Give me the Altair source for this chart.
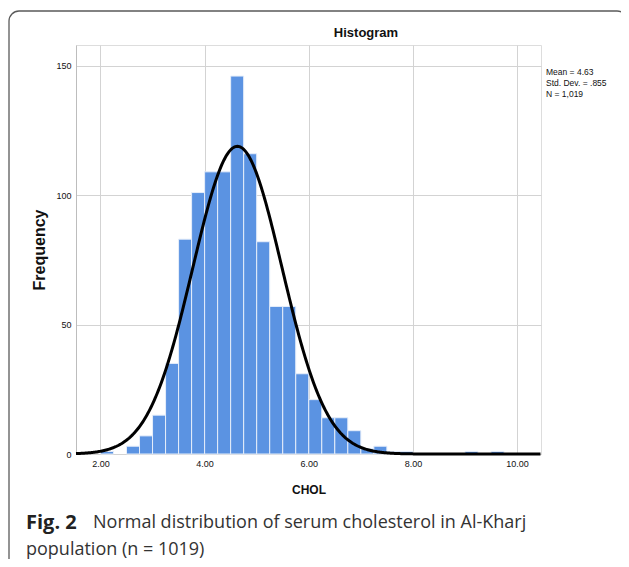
import altair as alt
import pandas as pd

# ---- data ----
bin_start = [2.00, 2.50, 2.75, 3.00, 3.25, 3.50, 3.75, 4.00, 4.25, 4.50, 4.75,
             5.00, 5.25, 5.50, 5.75, 6.00, 6.25, 6.50, 6.75, 7.00, 7.25, 7.50,
             7.75, 9.00, 9.50]
counts = [1, 3, 7, 15, 35, 83, 101, 109, 109, 146, 116,
          82, 57, 57, 31, 21, 14, 14, 9, 2, 3, 1,
          1, 1, 1]
BIN_WIDTH = 0.25
MEAN = 4.63
SD = 0.855
N = 1019
x_ticks = [2, 4, 6, 8, 10]
y_ticks = [0, 50, 100, 150]
X_DOMAIN = [1.53, 10.46]
Y_DOMAIN = [0, 158]
stats_lines = ["Mean = 4.63", "Std. Dev. = .855", "N = 1,019"]

hist = pd.DataFrame({"start": bin_start, "count": counts})

AX_FONT = "Liberation Sans"
W, H = 465, 409

x_scale = alt.Scale(domain=X_DOMAIN, nice=False, zero=False)
y_scale = alt.Scale(domain=Y_DOMAIN, nice=False, zero=False)

bars = alt.Chart(hist).transform_calculate(
    end=f"datum.start + {BIN_WIDTH}"
).mark_rect(color="#5b93e2", stroke="#e6eefa", strokeWidth=1).encode(
    x=alt.X("start:Q", scale=x_scale,
            axis=alt.Axis(values=x_ticks, format=".2f", title="CHOL",
                          titleFont=AX_FONT, titleFontSize=12, titleFontWeight="bold",
                          titleColor="#111", titlePadding=16,
                          labelFont=AX_FONT, labelFontSize=9, labelColor="#111",
                          labelPadding=5, ticks=False, domain=False,
                          grid=True, gridColor="#d3d3d3", gridWidth=1)),
    x2="end:Q",
    y=alt.Y("count:Q", scale=y_scale,
            axis=alt.Axis(values=y_ticks, title="Frequency",
                          titleFont=AX_FONT, titleFontSize=16, titleFontWeight="bold",
                          titleColor="#111", titlePadding=8,
                          labelFont=AX_FONT, labelFontSize=9, labelColor="#111",
                          labelPadding=5, ticks=False, domain=True,
                          domainColor="#bdbdbd", domainWidth=1,
                          grid=True, gridColor="#d3d3d3", gridWidth=1)),
)

curve = alt.Chart(alt.sequence(X_DOMAIN[0], X_DOMAIN[1] + 0.001, 0.02, as_="x")).transform_calculate(
    y=f"{N * BIN_WIDTH} / ({SD} * sqrt(2 * PI)) * exp(-0.5 * pow((datum.x - {MEAN}) / {SD}, 2))"
).mark_line(color="black", strokeWidth=3).encode(
    x=alt.X("x:Q", scale=x_scale),
    y=alt.Y("y:Q", scale=y_scale),
)

one = alt.Data(values=[{}])

card = alt.Chart(one).mark_rect(
    fill="white", fillOpacity=0, stroke="#5a5a5a", strokeWidth=1.3, cornerRadius=10
).encode(x=alt.value(-67), x2=alt.value(551), y=alt.value(-34), y2=alt.value(560))

title = alt.Chart(one).mark_text(
    font=AX_FONT, fontSize=13, fontWeight="bold", color="#111", align="center", baseline="middle"
).encode(x=alt.value(290), y=alt.value(-12), text=alt.value("Histogram"))

stats = alt.Chart(one).mark_text(
    font=AX_FONT, fontSize=8.5, color="#111", align="left", baseline="middle", lineHeight=11
).encode(x=alt.value(470), y=alt.value(27), text=alt.value(stats_lines))

fig_bold = alt.Chart(one).mark_text(
    font="Open Sans", fontSize=20, fontWeight="bold", color="#222", align="left", baseline="middle"
).encode(x=alt.value(-50), y=alt.value(478), text=alt.value("Fig. 2"))

fig_text1 = alt.Chart(one).mark_text(
    font="Open Sans", fontSize=18, color="#333", align="left", baseline="middle"
).encode(x=alt.value(17), y=alt.value(478),
         text=alt.value("Normal distribution of serum cholesterol in Al-Kharj"))

fig_text2 = alt.Chart(one).mark_text(
    font="Open Sans", fontSize=18, color="#333", align="left", baseline="middle"
).encode(x=alt.value(-50), y=alt.value(505), text=alt.value("population (n = 1019)"))

chart = alt.layer(card, bars, curve, title, stats, fig_bold, fig_text1, fig_text2).properties(
    width=W, height=H,
    autosize=alt.AutoSizeParams(type="none"),
    padding={"left": 68, "top": 37, "right": 80, "bottom": 105},
).configure_view(stroke=None).configure(background="white")

chart.save("out.html", embed_options={"renderer": "svg", "actions": False})
